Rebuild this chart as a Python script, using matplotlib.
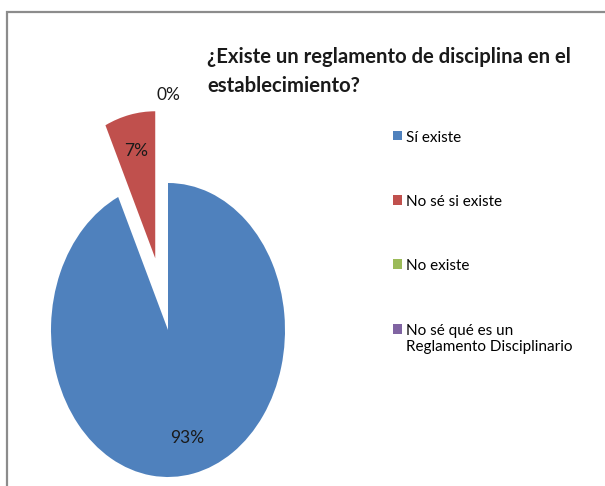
import matplotlib
matplotlib.use("Agg")
import matplotlib.pyplot as plt
from matplotlib.patches import Rectangle, Patch

categories = ["Sí existe", "No sé si existe", "No existe",
              "No sé qué es un\nReglamento Disciplinario"]
values = [93, 7, 0, 0]
colors = ["#4F81BD", "#C0504D", "#9BBB59", "#8064A2"]
explode = [0, 0.5, 0.85, 0.85]
title = "¿Existe un reglamento de disciplina en el\nestablecimiento?"

plt.rcParams['font.family'] = ['Lato', 'DejaVu Sans']

W, H = 605, 486
fig = plt.figure(figsize=(W / 100, H / 100), dpi=100)

# pie centre at (168, 330) px, radii 117 x 147 px (stretched vertically)
cx, cy, rx, ry = 168, 330, 117, 147
xl, yl = (-1.25, 1.25), (-1.05, 1.75)
left = cx + xl[0] * rx
top = cy - yl[1] * ry
ax = fig.add_axes([left / W, 1 - (top + (yl[1] - yl[0]) * ry) / H,
                   (xl[1] - xl[0]) * rx / W, (yl[1] - yl[0]) * ry / H])

wedges, texts, autotexts = ax.pie(
    values, colors=colors, explode=explode, startangle=90,
    counterclock=False, autopct=lambda p: f"{p:.0f}%", pctdistance=0.75,
    textprops={'fontsize': 12.5, 'color': '#1a1a1a'})
autotexts[3].set_visible(False)
ax.set_aspect('auto')
ax.set_xlim(*xl)
ax.set_ylim(*yl)
ax.axis('off')

fig.text(207 / W, 1 - 47 / H, title, ha='left', va='top', fontsize=14.6,
         fontweight='bold', linespacing=1.55, color='#1a1a1a')

handles = [Patch(facecolor=c) for c in colors]
leg = fig.legend(handles, categories, loc='upper left',
                 bbox_to_anchor=(385 / W, 1 - 123 / H), frameon=False,
                 fontsize=11, handlelength=0.6, handleheight=0.6,
                 handletextpad=0.25, labelspacing=3.3, borderpad=0)
# keep the handle beside the first line of the two-line label
for col in leg._legend_handle_box.get_children():
    for item in col.get_children():
        item.align = 'top'

fig.patches.append(Rectangle((7 / W, -0.05), 1.1, 1 - 12 / H + 0.05,
                             transform=fig.transFigure, fill=False,
                             edgecolor='#8c8c8c', linewidth=1.6))

fig.savefig("out.png", dpi=100)
